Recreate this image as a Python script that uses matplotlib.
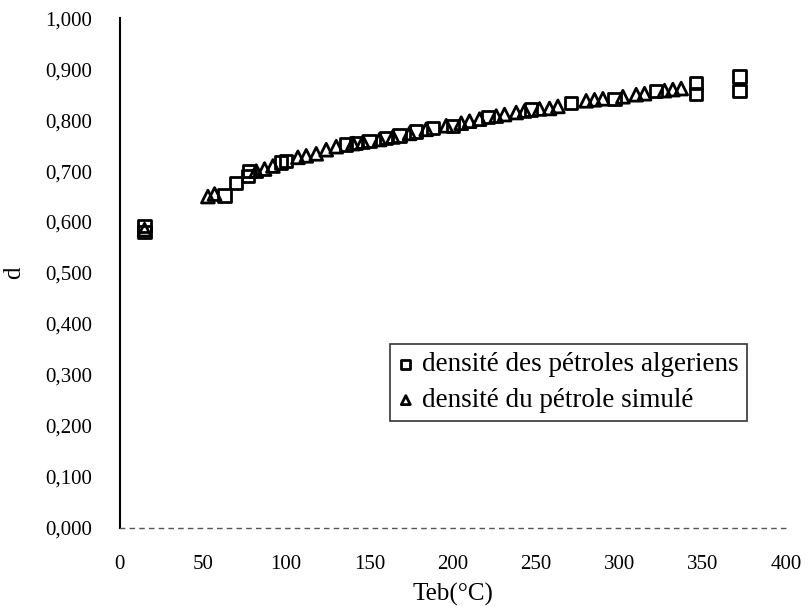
import matplotlib.pyplot as plt
from matplotlib.ticker import FuncFormatter

# densité des pétroles algeriens (squares)
alg_teb = [15, 15, 63, 70, 77, 78, 97, 100, 136, 142, 150, 160, 168, 178, 188,
           200, 221, 247, 271, 297, 322, 346, 346, 372, 372]
alg_d = [0.580, 0.592, 0.652, 0.677, 0.690, 0.700, 0.717, 0.720, 0.752, 0.755,
         0.759, 0.765, 0.770, 0.778, 0.785, 0.789, 0.806, 0.821, 0.834, 0.841,
         0.857, 0.851, 0.873, 0.857, 0.886]

# densité du pétrole simulé (triangles)
sim_teb = [15, 53, 57, 82, 87, 92, 107, 112, 118, 124, 130, 140, 146, 156, 164,
           174, 184, 196, 205, 210, 216, 226, 231, 238, 243, 252, 258, 263, 280,
           285, 290, 302, 310, 315, 327, 332, 337]
sim_d = [0.585, 0.650, 0.655, 0.700, 0.704, 0.710, 0.727, 0.730, 0.734, 0.742,
         0.748, 0.754, 0.757, 0.762, 0.767, 0.774, 0.782, 0.789, 0.794, 0.798,
         0.802, 0.808, 0.811, 0.815, 0.818, 0.822, 0.823, 0.827, 0.838, 0.840,
         0.842, 0.846, 0.850, 0.852, 0.858, 0.860, 0.862]

x_ticks = [0, 50, 100, 150, 200, 250, 300, 350, 400]
y_ticks = [0.0, 0.1, 0.2, 0.3, 0.4, 0.5, 0.6, 0.7, 0.8, 0.9, 1.0]

plt.rcParams['font.family'] = ['Liberation Serif', 'DejaVu Serif']

fig = plt.figure(figsize=(8.08, 6.10), dpi=100)
ax = fig.add_axes([0.148, 0.135, 0.825, 0.835])

ax.scatter(alg_teb, alg_d, marker='s', s=80, facecolors='none',
           edgecolors='black', linewidths=2, label='densité des pétroles algeriens', zorder=3)
ax.scatter(sim_teb, sim_d, marker='^', s=85, facecolors='none',
           edgecolors='black', linewidths=2, label='densité du pétrole simulé', zorder=3)

ax.set_xlim(0, 400)
ax.set_ylim(0, 1.0)
ax.set_xticks(x_ticks)
ax.set_yticks(y_ticks)
ax.yaxis.set_major_formatter(FuncFormatter(lambda v, p: f'{v:.3f}'.replace('.', ',')))
ax.tick_params(length=0, labelsize=15)
ax.tick_params(axis='x', pad=20)
ax.tick_params(axis='y', pad=20)

for side in ['top', 'right']:
    ax.spines[side].set_visible(False)
ax.spines['left'].set_linewidth(1.5)
ax.spines['bottom'].set_color('#555555')
ax.spines['bottom'].set_linestyle((0, (3, 4)))
ax.spines['bottom'].set_linewidth(1.0)

ax.set_xlabel('Teb(°C)', fontsize=18, labelpad=6)
ax.set_ylabel('d', fontsize=18, labelpad=14)

leg = ax.legend(loc='upper left', bbox_to_anchor=(0.405, 0.36), fontsize=19.5,
                frameon=True, fancybox=False, handlelength=0.6, handletextpad=0.3,
                borderpad=0.3, labelspacing=0.4, markerscale=0.7,
                borderaxespad=0)
leg.get_frame().set_edgecolor('black')
leg.get_frame().set_linewidth(1.2)

fig.savefig('out.png', dpi=100)
